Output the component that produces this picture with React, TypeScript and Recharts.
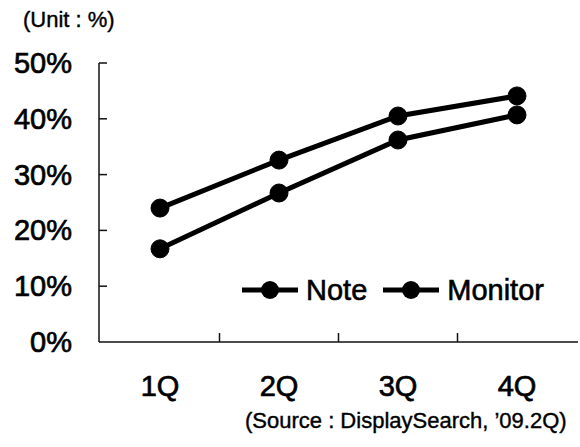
import React from 'react';
import { LineChart, Line, XAxis, YAxis, Legend } from 'recharts';

// Quarterly share (%) for each product line
const quarters = ['1Q', '2Q', '3Q', '4Q'];
const noteShare = [24.0, 32.6, 40.5, 44.1];
const monitorShare = [16.7, 26.7, 36.2, 40.7];
const yTicks = [0, 10, 20, 30, 40, 50];
const seriesOrder = ['Note', 'Monitor'];

const unitLabel = '(Unit : %)';
const sourceLabel = '(Source : DisplaySearch, \u201909.2Q)';

const data = quarters.map((q, i) => ({
  quarter: q,
  Note: noteShare[i],
  Monitor: monitorShare[i],
}));

const W = 580;
const H = 447;
const FONT = '"Liberation Sans", Arial, Helvetica, sans-serif';
const Y_AXIS_W = 99;
const RIGHT_M = 2;
const EDGE_PAD = 61;
const STEP = (W - Y_AXIS_W - RIGHT_M - 2 * EDGE_PAD) / (quarters.length - 1);

// medium-weight look: regular face with a thin outline
const svgTextStyle = { stroke: '#000', strokeWidth: 0.7, paintOrder: 'stroke' } as any;
const htmlTextStroke = { WebkitTextStroke: '0.6px #000' } as any;

const YTick = (props: any) => {
  const { x, y, payload } = props;
  return (
    <g>
      {payload.value !== 0 && (
        <line x1={x} x2={x + 8} y1={y} y2={y} stroke="#111" strokeWidth={1.5} />
      )}
      <text
        x={x - 27}
        y={y}
        dy={10}
        textAnchor="end"
        fontFamily={FONT}
        fontSize={29}
        fill="#000"
        style={svgTextStyle}
      >
        {`${payload.value}%`}
      </text>
    </g>
  );
};

const XTick = (props: any) => {
  const { x, y, payload, index } = props;
  const isLast = index === quarters.length - 1;
  return (
    <g>
      {!isLast && (
        <line
          x1={x + STEP / 2}
          x2={x + STEP / 2}
          y1={y}
          y2={y - 9}
          stroke="#111"
          strokeWidth={1.5}
        />
      )}
      <text
        x={x}
        y={y + 54}
        textAnchor="middle"
        fontFamily={FONT}
        fontSize={29}
        fill="#000"
        style={svgTextStyle}
      >
        {payload.value}
      </text>
    </g>
  );
};

const LegendContent = (props: any) => {
  const items = [...(props.payload || [])].sort(
    (a: any, b: any) => seriesOrder.indexOf(a.value) - seriesOrder.indexOf(b.value)
  );
  return (
    <div style={{ display: 'flex', alignItems: 'center' }}>
      {items.map((it: any) => (
        <div
          key={it.value}
          style={{ display: 'flex', alignItems: 'center', marginRight: 16 }}
        >
          <svg width={56} height={24} style={{ display: 'block' }}>
            <line x1={0} x2={56} y1={12} y2={12} stroke="#000" strokeWidth={5} />
            <circle cx={28} cy={12} r={9} fill="#000" />
          </svg>
          <span
            style={{
              marginLeft: 8,
              fontFamily: FONT,
              fontSize: 29,
              color: '#000',
              lineHeight: '28px',
              ...htmlTextStroke,
            }}
          >
            {it.value}
          </span>
        </div>
      ))}
    </div>
  );
};

const smallText = {
  position: 'absolute',
  fontFamily: FONT,
  fontSize: 22,
  lineHeight: '24px',
  color: '#000',
  whiteSpace: 'nowrap',
  WebkitTextStroke: '0.4px #000',
} as any;

export default function App() {
  return (
    <div
      style={{
        position: 'absolute',
        left: 0,
        top: 0,
        width: W,
        height: H,
        background: '#fff',
      }}
    >
      <div style={{ ...smallText, left: 23, top: 8 }}>{unitLabel}</div>
      <LineChart
        width={W}
        height={H}
        data={data}
        margin={{ top: 63, right: RIGHT_M, bottom: 0, left: 0 }}
      >
        <XAxis
          dataKey="quarter"
          height={105}
          padding={{ left: EDGE_PAD, right: EDGE_PAD }}
          interval={0}
          tickLine={false}
          tickSize={0}
          tickMargin={0}
          axisLine={{ stroke: '#111', strokeWidth: 1.5 }}
          tick={<XTick />}
        />
        <YAxis
          width={Y_AXIS_W}
          domain={[0, 50]}
          ticks={yTicks}
          interval={0}
          tickLine={false}
          tickSize={0}
          tickMargin={0}
          axisLine={{ stroke: '#111', strokeWidth: 1.5 }}
          tick={<YTick />}
        />
        <Legend
          layout="horizontal"
          verticalAlign="middle"
          align="center"
          content={<LegendContent />}
          wrapperStyle={{ left: 242, top: 276, width: 330 }}
        />
        <Line
          dataKey="Note"
          stroke="#000"
          strokeWidth={5}
          dot={{ r: 9, fill: '#000', stroke: '#000', strokeWidth: 1 }}
          isAnimationActive={false}
        />
        <Line
          dataKey="Monitor"
          stroke="#000"
          strokeWidth={5}
          dot={{ r: 9, fill: '#000', stroke: '#000', strokeWidth: 1 }}
          isAnimationActive={false}
        />
      </LineChart>
      <div style={{ ...smallText, left: 245, top: 409 }}>{sourceLabel}</div>
    </div>
  );
}
